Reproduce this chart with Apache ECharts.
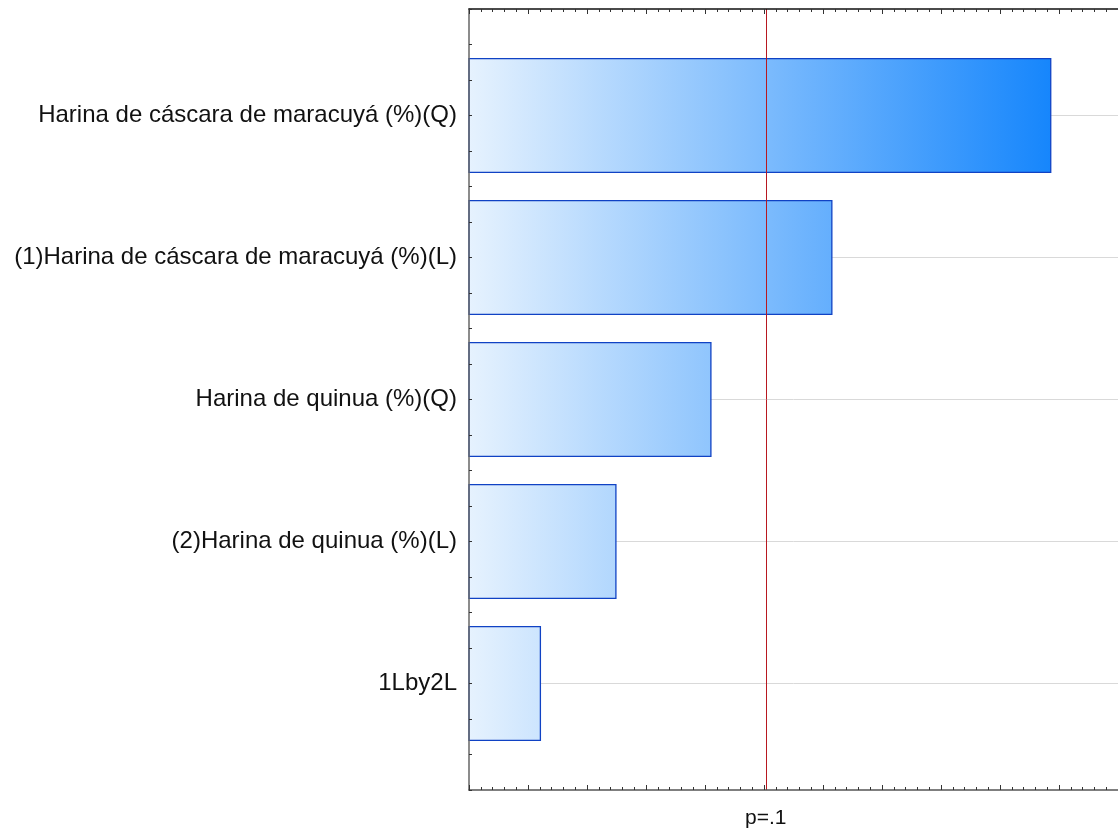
<!DOCTYPE html>
<html>
<head>
<meta charset="utf-8">
<script src="https://cdn.jsdelivr.net/npm/echarts@6/dist/echarts.min.js"></script>
<style>
  html, body { margin: 0; padding: 0; background: #fff; }
  #chart { width: 1118px; height: 832px; }
</style>
</head>
<body>
<div id="chart"></div>
<script>
// Pareto of standardized effects
const factors = [
  'Harina de cáscara de maracuyá (%)(Q)',
  '(1)Harina de cáscara de maracuyá (%)(L)',
  'Harina de quinua (%)(Q)',
  '(2)Harina de quinua (%)(L)',
  '1Lby2L'
];
const effects = [9.86, 6.15, 4.10, 2.49, 1.21];
const pLimit = 5.03;
const pLabel = 'p=.1';

const X_MAX = 11;
const Y_MIN = -0.75, Y_MAX = 4.75;
const FONT = 'Liberation Sans, Arial, sans-serif';

const chart = echarts.init(document.getElementById('chart'));

const tickStyle = { color: '#333', width: 1 };

function xAxisCfg(position) {
  return {
    type: 'value', position: position, min: 0, max: X_MAX, interval: 1, z: 5,
    axisLine: { show: true, onZero: false, lineStyle: { color: position === 'top' ? '#111' : '#555', width: 1.5 } },
    axisTick: { show: true, inside: true, length: 5, lineStyle: tickStyle },
    minorTick: { show: true, splitNumber: 5, length: 3, lineStyle: tickStyle },
    axisLabel: { show: false },
    splitLine: { show: false }
  };
}

const maxEffect = Math.max.apply(null, effects);

chart.setOption({
  animation: false,
  backgroundColor: '#fff',
  grid: { left: 469, right: -3, top: 9, bottom: 42, containLabel: false },
  xAxis: [xAxisCfg('bottom'), xAxisCfg('top')],
  yAxis: {
    type: 'value', min: Y_MIN, max: Y_MAX, interval: 0.25, inverse: true, z: 5,
    axisLine: { show: true, onZero: false, lineStyle: { color: '#666', width: 1.5 } },
    axisTick: { show: true, inside: true, length: 3, lineStyle: tickStyle },
    axisLabel: {
      margin: 12, color: '#111', fontSize: 24, fontFamily: FONT,
      formatter: function (v) {
        return Number.isInteger(v) && v >= 0 && v < factors.length ? factors[v] : '';
      }
    },
    splitLine: { show: false }
  },
  series: [{
    type: 'custom',
    data: effects.map(function (v, i) { return [v, i]; }),
    encode: { x: 0, y: 1 },
    renderItem: function (params, api) {
      const val = api.value(0), idx = api.value(1);
      const base = api.coord([0, idx]);
      const end = api.coord([val, idx]);
      const gx0 = api.coord([0, idx])[0];
      const gx1 = api.coord([maxEffect, idx])[0];
      const axisEnd = api.coord([X_MAX, idx])[0];
      const h = api.size([0, 0.8])[1];
      return {
        type: 'group',
        children: [{
          type: 'line',
          shape: { x1: base[0], y1: base[1], x2: axisEnd, y2: base[1] },
          style: { stroke: '#d9d9d9', lineWidth: 1 }
        }, {
          type: 'rect',
          shape: { x: base[0], y: base[1] - h / 2, width: end[0] - base[0], height: h },
          style: {
            fill: new echarts.graphic.LinearGradient(gx0, 0, gx1, 0, [
              { offset: 0, color: '#e6f2fe' },
              { offset: 1, color: '#1686fc' }
            ], true),
            stroke: '#1042c4',
            lineWidth: 1.3
          }
        }]
      };
    },
    markLine: {
      silent: true,
      symbol: 'none',
      lineStyle: { color: '#b81820', width: 1, type: 'solid' },
      label: {
        show: true, position: 'start', distance: 18, formatter: pLabel,
        color: '#111', fontSize: 21, fontFamily: FONT
      },
      data: [[{ coord: [pLimit, Y_MAX] }, { coord: [pLimit, Y_MIN] }]]
    },
    z: 2
  }]
});
</script>
</body>
</html>
